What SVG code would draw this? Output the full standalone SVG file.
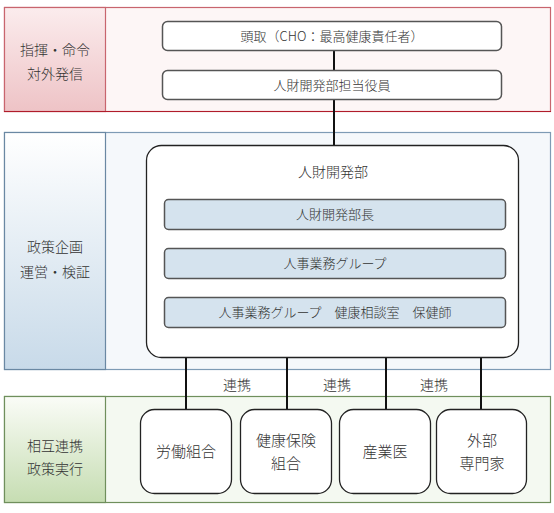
<svg xmlns="http://www.w3.org/2000/svg" width="554" height="513" viewBox="0 0 554 513">
<defs>
<linearGradient id="gRed" x1="0" y1="0" x2="0" y2="1"><stop offset="0" stop-color="#fbeced"/><stop offset="1" stop-color="#eec3c6"/></linearGradient>
<linearGradient id="gBlue" x1="0" y1="0" x2="0" y2="1"><stop offset="0" stop-color="#ffffff"/><stop offset="1" stop-color="#c8dae9"/></linearGradient>
<linearGradient id="gGreen" x1="0" y1="0" x2="0" y2="1"><stop offset="0" stop-color="#fafcf7"/><stop offset="1" stop-color="#c6ddb2"/></linearGradient>
<style>
text{font-family:"Noto Sans CJK JP","Noto Sans",sans-serif;font-weight:300;fill:#333;text-anchor:middle}
.t13{font-size:13px}.t14{font-size:14px}.t15{font-size:15px}
.box{fill:#fff;stroke:#555;stroke-width:1.5}
.inner{fill:#d5e3ee;stroke:#555;stroke-width:1.5}
.big{fill:#fff;stroke:#222;stroke-width:1.3}
.ext{fill:#fff;stroke:#222;stroke-width:1.3}
.conn{stroke:#111;stroke-width:2;fill:none}
</style>
</defs>
<g id="band-top">
<rect x="4.5" y="7.5" width="546" height="104" fill="#fdf6f6" stroke="#c8656e" stroke-width="1.2"/>
<rect x="4.5" y="7.5" width="101" height="104" fill="url(#gRed)" stroke="#c8656e" stroke-width="1.2"/>
<line x1="4" y1="111.5" x2="551" y2="111.5" stroke="#b01c2a" stroke-width="1.2"/>
<text class="t14" x="55" y="55">指揮・命令</text>
<text class="t14" x="55" y="79">対外発信</text>
</g>
<g id="band-mid">
<rect x="4.5" y="132.5" width="546" height="237" fill="#f5f8fb" stroke="#7e9bb5" stroke-width="1.2"/>
<rect x="4.5" y="132.5" width="101" height="237" fill="url(#gBlue)" stroke="#6a88a3" stroke-width="1.2"/>
<text class="t14" x="55" y="252">政策企画</text>
<text class="t14" x="55" y="277">運営・検証</text>
</g>
<g id="band-bot">
<rect x="4.5" y="396.5" width="546" height="106" fill="#f4f9f1" stroke="#6f8f5c" stroke-width="1.2"/>
<rect x="4.5" y="396.5" width="101" height="106" fill="url(#gGreen)" stroke="#6f8f5c" stroke-width="1.2"/>
<text class="t14" x="55" y="451">相互連携</text>
<text class="t14" x="55" y="474">政策実行</text>
</g>
<g id="connectors">
<line class="conn" x1="334" y1="51" x2="334" y2="70"/>
<line class="conn" x1="334" y1="99" x2="334" y2="146"/>
<line class="conn" x1="186" y1="357" x2="186" y2="409"/>
<line class="conn" x1="287" y1="357" x2="287" y2="409"/>
<line class="conn" x1="386" y1="357" x2="386" y2="409"/>
<line class="conn" x1="481" y1="357" x2="481" y2="409"/>
<text class="t14" x="237" y="390">連携</text>
<text class="t14" x="337" y="390">連携</text>
<text class="t14" x="434" y="390">連携</text>
</g>
<g id="cho">
<rect class="box" x="162.5" y="21.5" width="339" height="29" rx="5"/>
<text class="t13" x="332" y="40.5">頭取（CHO：最高健康責任者）</text>
</g>
<g id="officer">
<rect class="box" x="162.5" y="70.5" width="339" height="29" rx="5"/>
<text class="t13" x="332" y="89.5">人財開発部担当役員</text>
</g>
<g id="dept">
<rect class="big" x="146.5" y="145.5" width="372" height="212" rx="15"/>
<text class="t14" x="333" y="177">人財開発部</text>
</g>
<g id="head">
<rect class="inner" x="164.5" y="199.5" width="341" height="30" rx="4"/>
<text class="t13" x="335" y="219">人財開発部長</text>
</g>
<g id="group">
<rect class="inner" x="164.5" y="248.5" width="341" height="30" rx="4"/>
<text class="t13" x="335" y="268">人事業務グループ</text>
</g>
<g id="health">
<rect class="inner" x="164.5" y="297.5" width="341" height="30" rx="4"/>
<text class="t13" x="335" y="317">人事業務グループ　健康相談室　保健師</text>
</g>
<g id="union">
<rect class="ext" x="140.5" y="409.5" width="91" height="84" rx="14"/>
<text class="t15" x="186" y="457">労働組合</text>
</g>
<g id="insurance">
<rect class="ext" x="240.5" y="409.5" width="91" height="84" rx="14"/>
<text class="t15" x="286" y="446">健康保険</text>
<text class="t15" x="286" y="469">組合</text>
</g>
<g id="doctor">
<rect class="ext" x="339.5" y="409.5" width="91" height="84" rx="14"/>
<text class="t15" x="385" y="457">産業医</text>
</g>
<g id="expert">
<rect class="ext" x="436.5" y="409.5" width="90" height="84" rx="14"/>
<text class="t15" x="482" y="446">外部</text>
<text class="t15" x="482" y="469">専門家</text>
</g>
</svg>
